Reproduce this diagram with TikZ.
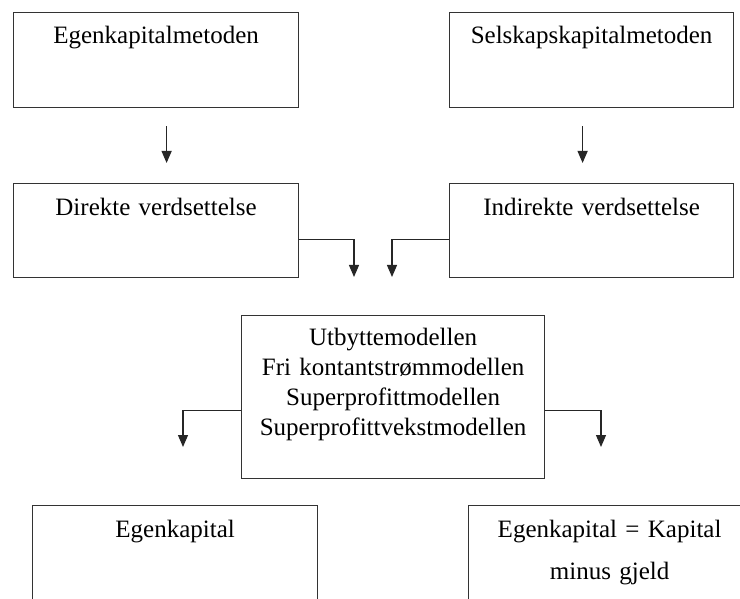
\documentclass[tikz,border=0pt]{standalone}
\usepackage{fontspec}
\setmainfont{Liberation Serif}
\usetikzlibrary{arrows.meta}

\begin{document}
\begin{tikzpicture}[x=1pt, y=-1pt,
  box/.style={draw=black!80, line width=1.2pt, rectangle, anchor=north west, inner sep=0pt, align=center, font=\fontsize{25}{30}\selectfont},
  arr/.style={-{Triangle[width=10pt,length=12pt]}, line width=1.2pt, draw=black!85}]
\useasboundingbox (0,0) rectangle (740,599);
\clip (0,0) rectangle (740,599);
% Boxes, top row to bottom row
\node[box, text width=285pt, text height=31pt, text depth=64pt] (ekm) at (13,12) {Egenkapitalmetoden}; % Top left
\node[box, text width=284pt, text height=31pt, text depth=64pt] (skm) at (449,12) {Selskapskapitalmetoden}; % Top right
\node[box, text width=285pt, text height=32pt, text depth=62pt] (dir) at (13,183) {Direkte verdsettelse}; % Left
\node[box, text width=284pt, text height=32pt, text depth=62pt] (ind) at (449,183) {Indirekte verdsettelse}; % Right
\node[box, text width=303pt, text height=30pt, text depth=133pt] (mod) at (241,315) {Utbyttemodellen\\Fri kontantstrømmodellen\\Superprofittmodellen\\Superprofittvekstmodellen}; % Middle
\node[box, text width=285pt, text height=32pt, text depth=63pt] (ek) at (32,505) {Egenkapital}; % Bottom left
\node[box, text width=282pt, text height=32pt, text depth=63pt, font=\fontsize{25}{42}\selectfont] (ekk) at (468,505) {Egenkapital = Kapital\\minus gjeld}; % Bottom right
% Free ends of the elbow arrows
\coordinate (inL) at (354,277);
\coordinate (inR) at (392,277);
\coordinate (outL) at (183,447);
\coordinate (outR) at (601,447);
% Arrows
\draw[arr, shorten <=18pt, shorten >=20pt] ([xshift=10.5pt]ekm.south) -- ([xshift=10.5pt]dir.north);
\draw[arr, shorten <=18pt, shorten >=20pt] ([xshift=-9pt]skm.south) -- ([xshift=-9pt]ind.north);
\draw[arr] ([yshift=-9pt]dir.east) -| (inL);
\draw[arr] ([yshift=-9pt]ind.west) -| (inR);
\draw[arr] ([yshift=-13.5pt]mod.west) -| (outL);
\draw[arr] ([yshift=-13.5pt]mod.east) -| (outR);
\end{tikzpicture}
\end{document}
